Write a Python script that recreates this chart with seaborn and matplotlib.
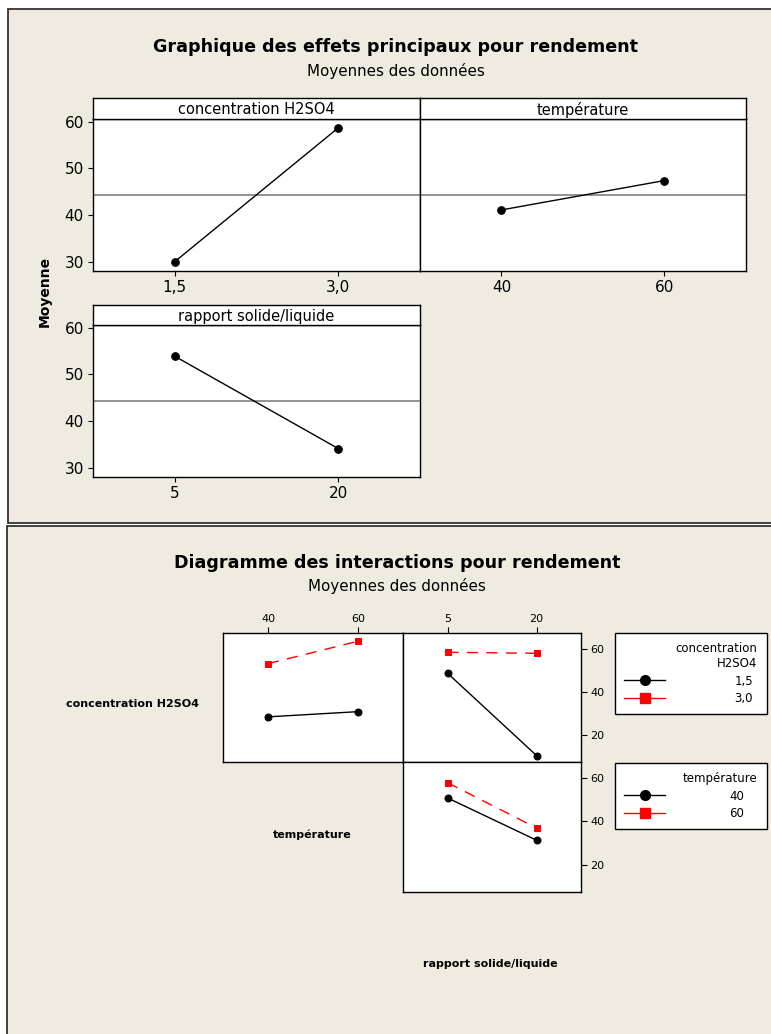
import pandas as pd
import matplotlib
matplotlib.use('Agg')
import matplotlib.pyplot as plt
import seaborn as sns
from matplotlib.patches import Rectangle
from matplotlib.lines import Line2D

# Niveaux des facteurs
conc_niveaux = [1.5, 3.0]
conc_labels = ['1,5', '3,0']
temp_niveaux = [40, 60]
temp_labels = ['40', '60']
rapport_niveaux = [5, 20]
rapport_labels = ['5', '20']

# Effets principaux (moyennes)
moy_conc = [30.0, 58.7]
moy_temp = [41.1, 47.4]
moy_rapport = [53.9, 34.1]
moyenne_globale = 44.2

# Interactions
conc_temp_15 = [28.4, 30.8]
conc_temp_30 = [53.0, 63.4]
conc_rapport_15 = [48.6, 10.5]
conc_rapport_30 = [58.3, 57.8]
temp_rapport_40 = [50.7, 31.3]
temp_rapport_60 = [57.7, 36.9]

BEIGE = '#efebe1'
W, H = 771, 1034

fig = plt.figure(figsize=(W / 100, H / 100), dpi=100, facecolor='white')


def boite(x0, y0, x1, y1):
    # coordonnées pixels -> coordonnées figure
    return [x0 / W, 1 - y1 / H, (x1 - x0) / W, (y1 - y0) / H]


# Cadres beiges des deux graphiques
fig.add_artist(Rectangle((8 / W, 1 - 522.5 / H), 800 / W, 513.5 / H, transform=fig.transFigure,
                         fc=BEIGE, ec='#333333', lw=1.3, zorder=-1))
fig.add_artist(Rectangle((7 / W, -0.05), 800 / W, 1 - 526 / H + 0.05, transform=fig.transFigure,
                         fc=BEIGE, ec='#333333', lw=1.3, zorder=-1))


def cadre(ax, lw=1.0):
    for s in ax.spines.values():
        s.set_color('black')
        s.set_linewidth(lw)


def bandeau(x0, y0, x1, y1, texte):
    sax = fig.add_axes(boite(x0, y0, x1, y1))
    sax.set_xticks([])
    sax.set_yticks([])
    cadre(sax)
    sax.text(0.5, 0.45, texte, ha='center', va='center', fontsize=10.5, transform=sax.transAxes)


def effet(pos, x, y, xlim, labels, titre, strip, gauche=True):
    ax = fig.add_axes(boite(*pos))
    sns.lineplot(x=x, y=y, ax=ax, color='black', marker='o', markersize=5.5, lw=1)
    for ln in ax.lines:
        ln.set_markeredgecolor('black')
    ax.axhline(moyenne_globale, color='#7f7f7f', lw=1.2, zorder=1)
    ax.set_xlim(xlim)
    ax.set_ylim(28.0, 60.6)
    ax.set_xticks(x)
    ax.set_xticklabels(labels, fontsize=11)
    ax.set_yticks([30, 40, 50, 60])
    ax.tick_params(axis='both', direction='out', length=3.5, width=0.8, labelsize=11, pad=3)
    if not gauche:
        ax.tick_params(axis='y', left=False, labelleft=False)
    ax.set_xlabel('')
    ax.set_ylabel('')
    cadre(ax)
    bandeau(*strip, titre)
    return ax


# ---------- Graphique des effets principaux ----------
fig.text(396 / W, 1 - 47 / H, 'Graphique des effets principaux pour rendement',
         ha='center', va='center', fontsize=12.6, fontweight='bold')
fig.text(396 / W, 1 - 71 / H, 'Moyennes des données', ha='center', va='center', fontsize=10.9)

effet((93, 119, 420, 271), conc_niveaux, moy_conc, (0.75, 3.75), conc_labels,
      'concentration H2SO4', (93, 98, 420, 119))
effet((420, 119, 746, 271), temp_niveaux, moy_temp, (30, 70), temp_labels,
      'température', (420, 98, 746, 119), gauche=False)
effet((93, 325, 420, 477), rapport_niveaux, moy_rapport, (-2.5, 27.5), rapport_labels,
      'rapport solide/liquide', (93, 305, 420, 325))

fig.text(45 / W, 1 - 291 / H, 'Moyenne', rotation=90, ha='center', va='center',
         fontsize=10, fontweight='bold')

# ---------- Diagramme des interactions ----------
fig.text(397 / W, 1 - 563 / H, 'Diagramme des interactions pour rendement',
         ha='center', va='center', fontsize=12.6, fontweight='bold')
fig.text(397 / W, 1 - 586 / H, 'Moyennes des données', ha='center', va='center', fontsize=10.9)

palette = {'1,5': 'black', '3,0': 'red', '40': 'black', '60': 'red'}
marqueurs = {'1,5': 'o', '3,0': 's', '40': 'o', '60': 's'}
tirets = {'1,5': '', '3,0': (8, 6), '40': '', '60': (8, 6)}

df_ct = pd.DataFrame({'x': temp_niveaux * 2,
                      'moyenne': conc_temp_15 + conc_temp_30,
                      'niveau': [conc_labels[0]] * 2 + [conc_labels[1]] * 2})
df_cr = pd.DataFrame({'x': rapport_niveaux * 2,
                      'moyenne': conc_rapport_15 + conc_rapport_30,
                      'niveau': [conc_labels[0]] * 2 + [conc_labels[1]] * 2})
df_tr = pd.DataFrame({'x': rapport_niveaux * 2,
                      'moyenne': temp_rapport_40 + temp_rapport_60,
                      'niveau': [temp_labels[0]] * 2 + [temp_labels[1]] * 2})


def interaction(pos, df, xlim, xt, xl, haut=False, droite=False):
    ax = fig.add_axes(boite(*pos))
    niv = list(df['niveau'].unique())
    sns.lineplot(data=df, x='x', y='moyenne', hue='niveau', style='niveau',
                 palette={k: palette[k] for k in niv}, markers={k: marqueurs[k] for k in niv},
                 dashes={k: tirets[k] for k in niv}, markersize=5, lw=1, ax=ax, legend=False)
    for ln in ax.lines:
        ln.set_markeredgecolor(ln.get_color())
    ax.set_xlim(xlim)
    ax.set_ylim(7.5, 67.2)
    ax.set_xlabel('')
    ax.set_ylabel('')
    ax.set_xticks(xt)
    ax.set_xticklabels(xl)
    ax.set_yticks([20, 40, 60])
    ax.tick_params(axis='both', direction='out', length=4.5, width=0.8, labelsize=8, pad=2)
    ax.tick_params(axis='x', bottom=False, labelbottom=False, top=haut, labeltop=haut)
    ax.tick_params(axis='y', left=False, labelleft=False, right=droite, labelright=droite)
    cadre(ax)
    return ax


interaction((223, 633, 403, 762), df_ct, (30, 70), temp_niveaux, temp_labels, haut=True)
interaction((403, 633, 581, 762), df_cr, (-2.5, 27.5), rapport_niveaux, rapport_labels,
            haut=True, droite=True)
interaction((403, 762, 581, 892), df_tr, (-2.5, 27.5), rapport_niveaux, rapport_labels,
            droite=True)

fig.text(133 / W, 1 - 704 / H, 'concentration H2SO4', ha='center', va='center',
         fontsize=8, fontweight='bold')
fig.text(312 / W, 1 - 835 / H, 'température', ha='center', va='center',
         fontsize=8, fontweight='bold')
fig.text(490 / W, 1 - 964 / H, 'rapport solide/liquide', ha='center', va='center',
         fontsize=8, fontweight='bold')


def legende(titre, labels, y0, hauteur, pad):
    poignees = [Line2D([], [], color='black', marker='o', ms=7, lw=1),
                Line2D([], [], color='red', marker='s', ms=7, lw=1)]
    leg = fig.legend(poignees, labels, title=titre, loc='upper left',
                     bbox_to_anchor=(615 / W, 1 - (y0 + hauteur) / H, 152 / W, hauteur / H),
                     mode='expand', borderaxespad=0, alignment='right', fontsize=8.5,
                     title_fontsize=8.5, handlelength=3.4, handletextpad=pad,
                     labelspacing=0.35, borderpad=0.8, fancybox=False, framealpha=1,
                     edgecolor='black', facecolor='white')
    leg.get_frame().set_linewidth(1.0)
    leg.get_title().set_multialignment('right')
    return leg


legende('concentration\nH2SO4', conc_labels, 633, 79, 5.9)
legende('température', temp_labels, 763, 60, 5.5)

fig.savefig('out.png', dpi=100, facecolor=fig.get_facecolor())
